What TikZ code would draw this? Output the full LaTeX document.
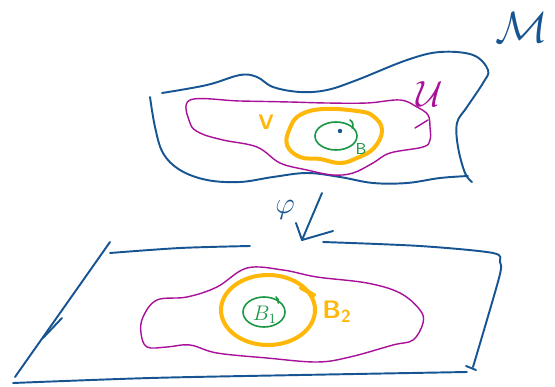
\documentclass[tikz,border=0pt]{standalone}
\usepackage{tikz}

\definecolor{inkblue}{RGB}{22,84,146}
\definecolor{inkmag}{RGB}{168,16,154}
\definecolor{inkorange}{RGB}{255,184,10}
\definecolor{inkgreen}{RGB}{24,150,66}

\begin{document}
\begin{tikzpicture}[x=0.02cm,y=-0.02cm,line cap=round,line join=round,
  blueink/.style={inkblue,line width=1.1pt},
  magink/.style={inkmag,line width=0.8pt},
  orangeink/.style={inkorange,line width=2.3pt},
  greenink/.style={inkgreen,line width=0.9pt}]
  \useasboundingbox (0,0) rectangle (555,386);

  % upper patch
  \draw[blueink] plot[smooth,tension=0.6] coordinates {(162,93) (207,85) (240,75) (257,77) (273,87) (300,92) (327,90) (357,80) (407,60) (440,52) (473,55) (488,70) (483,83) (467,107) (457,123) (458,147) (465,173) (472,182)};
  \draw[blueink] plot[smooth,tension=0.6] coordinates {(468,176) (440,178) (407,183) (373,183) (340,177) (307,173) (273,177) (240,182) (207,180) (180,170) (163,153) (155,127) (150,97)};
  \draw[magink] plot[smooth cycle,tension=0.6] coordinates {(190,100) (240,101) (290,102) (327,103) (367,103) (400,100) (417,107) (428,115) (430,127) (430,140) (423,147) (390,153) (373,163) (353,173) (333,175) (307,170) (280,163) (257,147) (223,140) (200,133) (190,123)};
  \draw[magink] (415,128) -- (428,120);
  \draw[orangeink] plot[smooth cycle,tension=0.7] coordinates {(300,115) (323,109) (357,111) (373,116) (382,130) (374,148) (357,158) (340,163) (320,159) (300,157) (287,145) (290,128)};
  \draw[greenink] (336,136) ellipse (21 and 14);
  \draw[greenink] (350,120) arc (-60:30:6);
  \fill[inkblue] (340,131) circle (2.2);
  \node[inkorange,font=\bfseries\sffamily\large] (vlab) at (266,122) {V};
  \node[inkmag,font=\huge] (ulab) at (430,94) {$\mathcal{U}$};
  \node[inkgreen,font=\sffamily\small,inner sep=0pt] (blab) at (361,149) {B};
  \node[inkblue,font=\Huge] (mlab) at (522,28) {$\mathcal{M}$};

  % map
  \node[inkblue,font=\LARGE] (philab) at (285,210) {$\varphi$};
  \draw[blueink] (322,193) -- (302,240);
  \draw[blueink] (296,223) -- (302,240) -- (333,231);

  % lower plane
  \draw[blueink] plot[smooth,tension=0.5] coordinates {(110,253) (180,248) (250,246)};
  \draw[blueink] plot[smooth,tension=0.5] coordinates {(323,242) (420,246) (493,253) (500,262) (499,278) (473,367)};
  \draw[blueink] (110,242) -- (15,377);
  \draw[blueink] (43,338) -- (62,318);
  \draw[blueink] plot[smooth,tension=0.5] coordinates {(13,383) (150,378) (300,375) (467,372)};
  \draw[blueink] (466,366) -- (476,370);
  \draw[magink] plot[smooth cycle,tension=0.6] coordinates {(143,317) (157,300) (187,297) (217,287) (247,268) (283,270) (317,277) (367,283) (400,293) (420,310) (423,323) (413,340) (393,345) (350,357) (317,362) (267,358) (217,353) (190,345) (167,347) (147,347) (141,333)};
  \draw[orangeink] (268,310) ellipse (47 and 35);
  \draw[orangeink] (301,288) -- (314,295);
  \draw[greenink] (264,312) ellipse (21 and 15);
  \draw[greenink] (276,297) arc (-60:20:5);
  \node[inkgreen,font=\large] (bonelab) at (265,315) {$B_1$};
  \node[inkorange,font=\bfseries\sffamily\Large] (btwolab) at (337,312) {B\textsubscript{2}};
\end{tikzpicture}
\end{document}
